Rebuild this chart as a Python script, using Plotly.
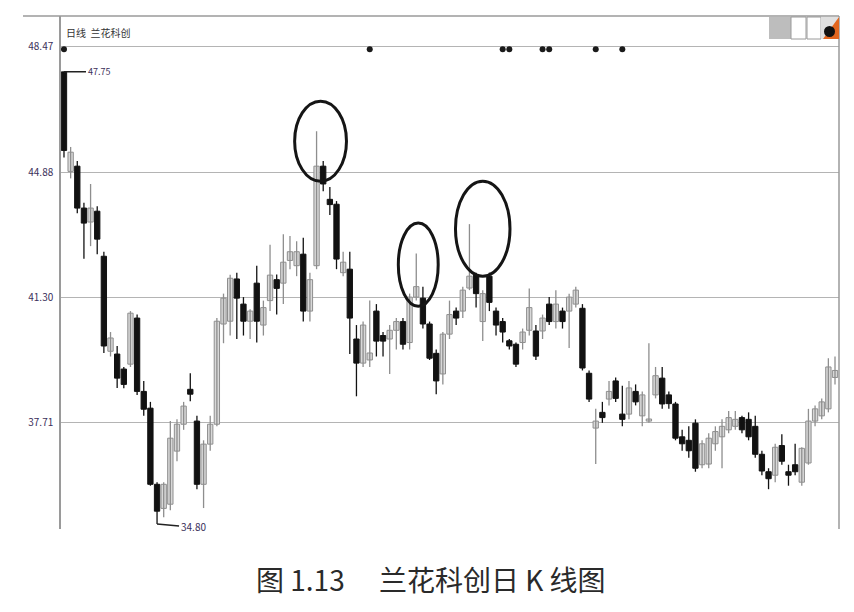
import plotly.graph_objects as go

# ---- data ----
opens = [47.75, 44.90, 45.05, 43.85, 43.45, 43.76, 42.47, 39.75, 39.67, 39.24,
         39.38, 40.70, 38.60, 38.12, 35.94, 35.25, 35.37, 36.89, 37.66, 38.66,
         37.75, 35.94, 37.09, 37.66, 40.53, 40.61, 41.82, 41.10, 40.61, 41.70,
         40.50, 41.20, 41.80, 41.70, 42.35, 42.20, 42.53, 40.90, 42.20, 45.05,
         44.10, 43.96, 42.00, 42.10, 40.10, 39.41, 39.50, 40.90, 40.20, 40.10,
         40.35, 40.60, 40.00, 41.30, 41.27, 40.53, 39.69, 39.10, 40.24, 40.90,
         40.90, 41.56, 41.95, 40.60, 41.90, 40.90, 40.60, 40.05, 39.95, 40.00,
         40.35, 40.33, 40.33, 41.10, 40.60, 40.90, 40.90, 41.10, 40.98, 39.12,
         37.55, 38.00, 38.38, 38.90, 37.95, 37.95, 38.60, 37.90, 37.75, 38.50,
         38.98, 38.50, 38.24, 37.30, 37.20, 37.69, 36.50, 36.52, 37.10, 37.30,
         37.50, 37.60, 37.85, 37.80, 37.60, 36.80, 36.30, 36.20, 37.05, 36.30,
         36.50, 36.00, 36.55, 37.75, 37.90, 38.10, 39.00]
highs = [47.75, 45.60, 45.20, 44.00, 44.54, 43.90, 42.60, 40.30, 39.90, 39.30,
         40.90, 40.80, 38.90, 38.30, 36.00, 36.00, 37.75, 37.80, 38.30, 39.12,
         37.90, 37.20, 37.90, 40.70, 41.40, 41.94, 42.00, 41.30, 40.95, 42.20,
         41.20, 42.80, 41.95, 43.10, 43.05, 42.90, 43.00, 42.00, 46.05, 45.20,
         44.45, 44.05, 42.60, 42.60, 40.50, 40.60, 41.20, 41.10, 40.30, 40.50,
         40.70, 40.70, 41.40, 42.55, 41.60, 40.60, 39.80, 40.30, 41.20, 41.00,
         41.60, 43.39, 42.00, 41.50, 42.00, 41.00, 40.70, 40.10, 40.00, 40.40,
         41.55, 40.50, 40.80, 41.30, 41.50, 41.00, 41.40, 41.60, 41.10, 39.20,
         38.10, 38.30, 38.90, 39.00, 38.76, 38.90, 38.80, 38.60, 39.98, 39.30,
         39.30, 38.60, 38.30, 37.50, 37.60, 37.80, 37.20, 37.40, 37.60, 37.80,
         38.04, 38.04, 37.90, 38.00, 37.90, 36.90, 36.40, 37.10, 37.37, 36.50,
         37.10, 37.00, 38.10, 38.20, 38.40, 39.55, 39.60]
lows = [45.30, 44.70, 43.70, 42.40, 42.76, 42.53, 39.70, 39.60, 38.70, 38.69,
        39.30, 38.50, 37.90, 35.90, 34.80, 35.00, 35.20, 36.60, 37.50, 38.32,
        35.80, 35.26, 36.90, 37.60, 39.98, 40.20, 40.10, 40.20, 40.10, 40.00,
        40.20, 40.90, 40.80, 41.10, 42.10, 41.90, 40.60, 40.60, 42.10, 44.33,
        43.65, 42.10, 41.90, 39.67, 38.46, 39.30, 39.30, 39.60, 39.60, 39.10,
        39.80, 39.80, 39.80, 41.20, 40.40, 39.50, 38.52, 38.80, 40.10, 40.50,
        40.70, 41.50, 41.00, 40.04, 40.90, 40.20, 40.00, 39.80, 39.30, 39.80,
        40.20, 39.50, 40.10, 40.50, 40.40, 40.40, 39.84, 41.00, 39.20, 38.30,
        36.52, 37.70, 38.20, 38.30, 37.60, 37.80, 38.20, 37.60, 37.70, 38.40,
        38.10, 38.10, 37.20, 36.90, 36.70, 36.30, 36.40, 36.40, 36.90, 36.40,
        37.40, 37.50, 37.40, 37.20, 36.70, 36.20, 35.80, 36.00, 36.50, 35.90,
        36.20, 35.90, 36.50, 37.60, 37.80, 38.00, 38.80]
closes = [45.50, 45.45, 43.85, 43.42, 43.85, 42.96, 39.90, 40.13, 38.98, 38.80,
          40.84, 38.60, 38.09, 35.94, 35.17, 35.94, 37.26, 37.66, 38.18, 38.52,
          35.94, 37.09, 37.66, 40.61, 41.27, 41.84, 41.27, 40.61, 40.90, 40.61,
          41.00, 41.93, 41.55, 42.30, 42.60, 42.60, 40.90, 41.80, 45.05, 44.54,
          43.95, 42.39, 42.30, 40.70, 39.41, 40.50, 39.70, 40.04, 40.04, 40.35,
          40.60, 39.95, 41.30, 41.60, 40.53, 39.55, 38.90, 40.24, 40.80, 40.70,
          41.50, 41.90, 41.40, 41.40, 41.15, 40.50, 40.30, 39.90, 39.38, 40.30,
          41.00, 39.61, 40.70, 40.60, 41.10, 40.60, 41.30, 41.50, 39.27, 38.38,
          37.75, 37.85, 38.60, 38.40, 37.80, 38.70, 38.30, 38.50, 37.80, 39.05,
          38.24, 38.25, 37.26, 37.10, 36.90, 36.40, 37.10, 37.26, 37.45, 37.60,
          37.85, 37.80, 37.50, 37.30, 36.80, 36.32, 36.10, 37.00, 36.60, 36.20,
          36.30, 36.97, 37.75, 38.10, 38.30, 39.30, 39.20]
days = list(range(len(opens)))

tick_vals = [48.47, 44.88, 41.30, 37.71]
tick_text = ["48.47", "44.88", "41.30", "37.71"]

signal_days = [0, 46, 66, 67, 72, 73, 80, 84]
signal_level = [48.40] * len(signal_days)

high_label = "47.75"
low_label = "34.80"
header_text = "日线  兰花科创"
caption = "图 1.13　 兰花科创日 K 线图"

UP_FILL, UP_LINE = "#d8d8d8", "#8e8e8e"
DN_FILL, DN_LINE = "#121212", "#121212"

fig = go.Figure()

# wicks
for is_up, col in ((True, UP_LINE), (False, DN_LINE)):
    wx, wy = [], []
    for d, o, h, l, c in zip(days, opens, highs, lows, closes):
        if (c >= o) == is_up:
            wx += [d, d, None]
            wy += [l, h, None]
    fig.add_trace(go.Scatter(x=wx, y=wy, mode="lines", line=dict(color=col, width=1.3),
                             showlegend=False, hoverinfo="skip"))

# bodies
for is_up, fill, line in ((True, UP_FILL, UP_LINE), (False, DN_FILL, DN_LINE)):
    bx, bb, bh = [], [], []
    for d, o, c in zip(days, opens, closes):
        if (c >= o) == is_up:
            bx.append(d)
            bb.append(min(o, c))
            bh.append(max(abs(c - o), 0.06))
    fig.add_trace(go.Bar(x=bx, y=bh, base=bb, width=0.8,
                         marker=dict(color=fill, line=dict(color=line, width=1)),
                         showlegend=False, hoverinfo="skip"))

fig.add_trace(go.Scatter(
    x=signal_days, y=signal_level, mode="markers",
    marker=dict(color="#1a1a1a", size=6), showlegend=False, hoverinfo="skip",
))

# circled shadows
circles = [(34.7, 42.5, 44.62, 46.91), (50.3, 56.3, 41.04, 43.42), (58.9, 67.1, 41.90, 44.62)]
for x0, x1, y0, y1 in circles:
    fig.add_shape(type="circle", xref="x", yref="y", x0=x0, x1=x1, y0=y0, y1=y1,
                  line=dict(color="#151515", width=3))

def px(xp):
    return (xp - 60) / 778
def py(yp):
    return (528 - yp) / 513

# frame lines
fig.add_shape(type="line", xref="paper", yref="paper", x0=px(22), x1=1, y0=1, y1=1,
              line=dict(color="#9a9a9a", width=1.5))
fig.add_shape(type="line", xref="paper", yref="paper", x0=1, x1=1, y0=0, y1=1,
              line=dict(color="#9a9a9a", width=1.5))

# top-right toolbar icons
fig.add_shape(type="rect", xref="paper", yref="paper", x0=px(768), x1=px(790), y0=py(38), y1=py(16),
              fillcolor="#bdbdbd", line=dict(width=0))
fig.add_shape(type="rect", xref="paper", yref="paper", x0=px(790), x1=px(805), y0=py(38), y1=py(16),
              fillcolor="#ffffff", line=dict(color="#9a9a9a", width=1))
fig.add_shape(type="rect", xref="paper", yref="paper", x0=px(806), x1=px(820), y0=py(38), y1=py(16),
              fillcolor="#ffffff", line=dict(color="#9a9a9a", width=1))
fig.add_shape(type="rect", xref="paper", yref="paper", x0=px(820), x1=px(838), y0=py(38), y1=py(16),
              fillcolor="#e0e0e0", line=dict(width=0))
fig.add_shape(type="path", xref="paper", yref="paper",
              path=f"M {px(838)},{py(16)} L {px(838)},{py(38)} L {px(822)},{py(38)} Z",
              fillcolor="#e2661f", line=dict(width=0))
fig.add_shape(type="circle", xref="paper", yref="paper", x0=px(823), x1=px(834), y0=py(36), y1=py(25),
              fillcolor="#111111", line=dict(width=0))

fig.add_annotation(x=0, y=highs[0], text=high_label, showarrow=True, arrowhead=0,
                   arrowwidth=1.5, arrowcolor="#222", ax=22, ay=0, xanchor="left",
                   font=dict(size=9, color="#3a2f5a"))
fig.add_annotation(x=14, y=lows[14], text=low_label, showarrow=True, arrowhead=0,
                   arrowwidth=1.5, arrowcolor="#222", ax=22, ay=2, xanchor="left",
                   font=dict(size=10, color="#3a2f5a"))
fig.add_annotation(xref="paper", yref="paper", x=px(63), y=py(31), text=header_text,
                   showarrow=False, xanchor="left", yanchor="middle",
                   font=dict(size=10, color="#333"))
fig.add_annotation(xref="paper", yref="paper", x=px(430), y=py(578), text=caption,
                   showarrow=False, xanchor="center", yanchor="middle",
                   font=dict(size=28, color="#2a2a2a", family="Noto Sans CJK SC"))

fig.update_layout(
    width=854, height=612,
    margin=dict(l=53, r=23, t=8, b=91),
    paper_bgcolor="white", plot_bgcolor="white",
    font=dict(family="Noto Sans CJK SC"),
    barmode="overlay",
    xaxis=dict(range=[-0.45, 116.6], showgrid=False, showticklabels=False, zeroline=False,
               showline=False, fixedrange=True),
    yaxis=dict(range=[34.66, 49.35], tickvals=tick_vals, ticktext=tick_text,
               showgrid=True, gridcolor="#b4b4b4", gridwidth=1, zeroline=False,
               showline=True, linecolor="#9a9a9a", linewidth=1.5, ticks="",
               tickfont=dict(size=10, color="#3a2f5a"), ticklabelstandoff=4),
)

fig.write_html("out.html")
